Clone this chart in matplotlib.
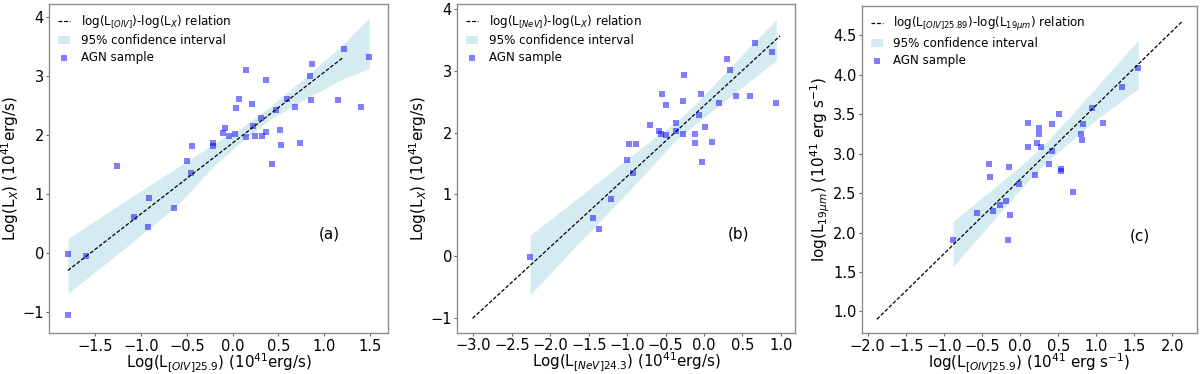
import matplotlib
matplotlib.use("Agg")
import matplotlib.pyplot as plt
import numpy as np

# ---------------- Panel (a): [OIV] vs L_X ----------------
a_x = [-1.80, -1.80, -1.60, -1.26, -1.08, -0.91, -0.93, -0.64, -0.50, -0.45,
       -0.46, -0.21, -0.21, -0.11, -0.08, -0.04, 0.04, 0.03, 0.07, 0.15,
       0.15, 0.21, 0.22, 0.24, 0.31, 0.32, 0.36, 0.36, 0.47, 0.52,
       0.53, 0.43, 0.59, 0.68, 0.74, 0.84, 0.87, 0.86, 1.15, 1.22,
       1.40, 1.49]
a_y = [-0.01, -1.05, -0.05, 1.47, 0.62, 0.94, 0.44, 0.77, 1.56, 1.82,
       1.36, 1.86, 1.81, 2.03, 2.13, 1.98, 2.46, 2.02, 2.61, 3.10,
       1.97, 2.52, 2.16, 1.98, 2.29, 1.99, 2.94, 2.05, 2.42, 2.09,
       1.83, 1.52, 2.62, 2.48, 1.86, 3.01, 3.20, 2.60, 2.60, 3.46,
       2.48, 3.32]
a_line_x = [-1.80, 1.21]
a_line_y = [-0.29, 3.32]
a_band_x = [-1.80, -1.20, -0.60, -0.20, 0.10, 0.40, 0.80, 1.20, 1.49]
a_band_hi = [0.25, 0.86, 1.46, 1.86, 2.13, 2.47, 2.99, 3.53, 3.98]
a_band_lo = [-0.68, 0.06, 0.82, 1.49, 1.90, 2.26, 2.62, 2.95, 3.13]

# ---------------- Panel (b): [NeV] vs L_X ----------------
b_x = [-2.26, -1.44, -1.37, -1.21, -1.00, -0.97, -0.88, -0.92, -0.70, -0.59,
       -0.56, -0.50, -0.55, -0.49, -0.37, -0.37, -0.27, -0.27, -0.26, -0.12,
       -0.12, -0.06, -0.04, -0.03, 0.01, 0.10, 0.19, 0.30, 0.34, 0.41,
       0.60, 0.66, 0.89, 0.94]
b_y = [-0.02, 0.61, 0.44, 0.93, 1.56, 1.82, 1.82, 1.35, 2.13, 2.02,
       1.98, 1.97, 2.62, 2.45, 2.16, 2.03, 1.98, 2.51, 2.94, 1.98,
       1.83, 2.29, 2.62, 1.52, 2.09, 1.85, 2.48, 3.20, 3.01, 2.60,
       2.60, 3.46, 3.31, 2.48]
b_line_x = [-3.01, 0.99]
b_line_y = [-1.01, 3.57]
b_band_x = [-2.26, -1.60, -1.00, -0.60, -0.35, -0.10, 0.30, 0.60, 0.94]
b_band_hi = [0.34, 0.98, 1.57, 1.96, 2.18, 2.48, 3.00, 3.40, 3.84]
b_band_lo = [-0.63, 0.25, 1.02, 1.56, 1.90, 2.15, 2.55, 2.84, 3.17]

# ---------------- Panel (c): [OIV]25.89 vs L_19um ----------------
c_x = [-0.88, -0.56, -0.36, -0.27, -0.18, -0.41, -0.39, -0.14, -0.13, -0.16,
       -0.02, 0.10, 0.11, 0.19, 0.22, 0.25, 0.25, 0.28, 0.38, 0.42,
       0.42, 0.51, 0.54, 0.54, 0.69, 0.80, 0.81, 0.82, 0.95, 1.09,
       1.34, 1.55]
c_y = [1.90, 2.25, 2.27, 2.35, 2.40, 2.87, 2.70, 2.83, 2.22, 1.91,
       2.61, 3.09, 3.39, 2.73, 3.14, 3.33, 3.25, 3.08, 2.87, 3.03,
       3.37, 3.50, 2.81, 2.78, 2.51, 3.25, 3.17, 3.38, 3.58, 3.39,
       3.84, 4.09]
c_line_x = [-1.88, 2.13]
c_line_y = [0.90, 4.68]
c_band_x = [-0.88, -0.40, 0.00, 0.30, 0.60, 1.00, 1.55]
c_band_hi = [2.14, 2.52, 2.84, 3.10, 3.41, 3.84, 4.44]
c_band_lo = [1.57, 2.10, 2.54, 2.86, 3.10, 3.43, 3.82]

panels = [
    dict(x=a_x, y=a_y, lx=a_line_x, ly=a_line_y, bx=a_band_x, bh=a_band_hi, bl=a_band_lo,
         rel=r"log(L$_{[OIV]}$)-log(L$_X$) relation",
         xlabel=r"Log(L$_{[OIV]25.9}$) (10$^{41}$erg/s)",
         ylabel=r"Log(L$_X$) (10$^{41}$erg/s)",
         tag="(a)", tagpos=(1.06, 0.32),
         xlim=(-2.003, 1.693), ylim=(-1.354, 4.221),
         xticks=[-1.5, -1.0, -0.5, 0.0, 0.5, 1.0, 1.5], yticks=[-1, 0, 1, 2, 3, 4],
         pos=[0.0411, 0.1088, 0.2820, 0.8805]),
    dict(x=b_x, y=b_y, lx=b_line_x, ly=b_line_y, bx=b_band_x, bh=b_band_hi, bl=b_band_lo,
         rel=r"log(L$_{[NeV]}$)-log(L$_X$) relation",
         xlabel=r"Log(L$_{[NeV]24.3}$) (10$^{41}$erg/s)",
         ylabel=r"Log(L$_X$) (10$^{41}$erg/s)",
         tag="(b)", tagpos=(0.45, 0.35),
         xlim=(-3.208, 1.183), ylim=(-1.243, 4.086),
         xticks=[-3.0, -2.5, -2.0, -1.5, -1.0, -0.5, 0.0, 0.5, 1.0], yticks=[-1, 0, 1, 2, 3, 4],
         pos=[0.3811, 0.1104, 0.2814, 0.8789]),
    dict(x=c_x, y=c_y, lx=c_line_x, ly=c_line_y, bx=c_band_x, bh=c_band_hi, bl=c_band_lo,
         rel=r"log(L$_{[OIV]25.89}$)-log(L$_{19\mu m}$) relation",
         xlabel=r"log(L$_{[OIV]25.9}$) (10$^{41}$ erg s$^{-1}$)",
         ylabel=r"log(L$_{19\mu m}$) (10$^{41}$ erg s$^{-1}$)",
         tag="(c)", tagpos=(1.575, 1.96),
         xlim=(-2.079, 2.319), ylim=(0.722, 4.872),
         xticks=[-2.0, -1.5, -1.0, -0.5, 0.0, 0.5, 1.0, 1.5, 2.0],
         yticks=[1.0, 1.5, 2.0, 2.5, 3.0, 3.5, 4.0, 4.5],
         pos=[0.7181, 0.1088, 0.2792, 0.8751]),
]

fig = plt.figure(figsize=(12, 3.74), dpi=100)

for p in panels:
    ax = fig.add_axes(p["pos"])
    ax.plot(p["lx"], p["ly"], "k--", lw=0.9, dashes=(3, 1.5), label=p["rel"], zorder=3)
    ax.fill_between(p["bx"], p["bl"], p["bh"], color="lightblue", alpha=0.5,
                    linewidth=0, label="95% confidence interval", zorder=1)
    ax.scatter(p["x"], p["y"], marker="s", s=22, color="blue", alpha=0.5,
               linewidths=0, label="AGN sample", zorder=2)
    ax.set_xlim(p["xlim"])
    ax.set_ylim(p["ylim"])
    ax.set_xticks(p["xticks"])
    ax.set_yticks(p["yticks"])
    ax.tick_params(labelsize=10.5, color="0.4", length=2.2, pad=1.6)
    ax.set_xlabel(p["xlabel"], fontsize=10.8, labelpad=-1.5)
    ax.set_ylabel(p["ylabel"], fontsize=11, labelpad=1)
    for s in ax.spines.values():
        s.set_color("0.55")
        s.set_linewidth(1.0)
    ax.text(p["tagpos"][0], p["tagpos"][1], p["tag"], fontsize=11, ha="center", va="center")
    ax.legend(loc="upper left", frameon=False, fontsize=8.6, handlelength=1.0,
              handletextpad=0.9, borderaxespad=0.35, labelspacing=0.33,
              borderpad=0.4)

fig.savefig("out.png", dpi=100)
